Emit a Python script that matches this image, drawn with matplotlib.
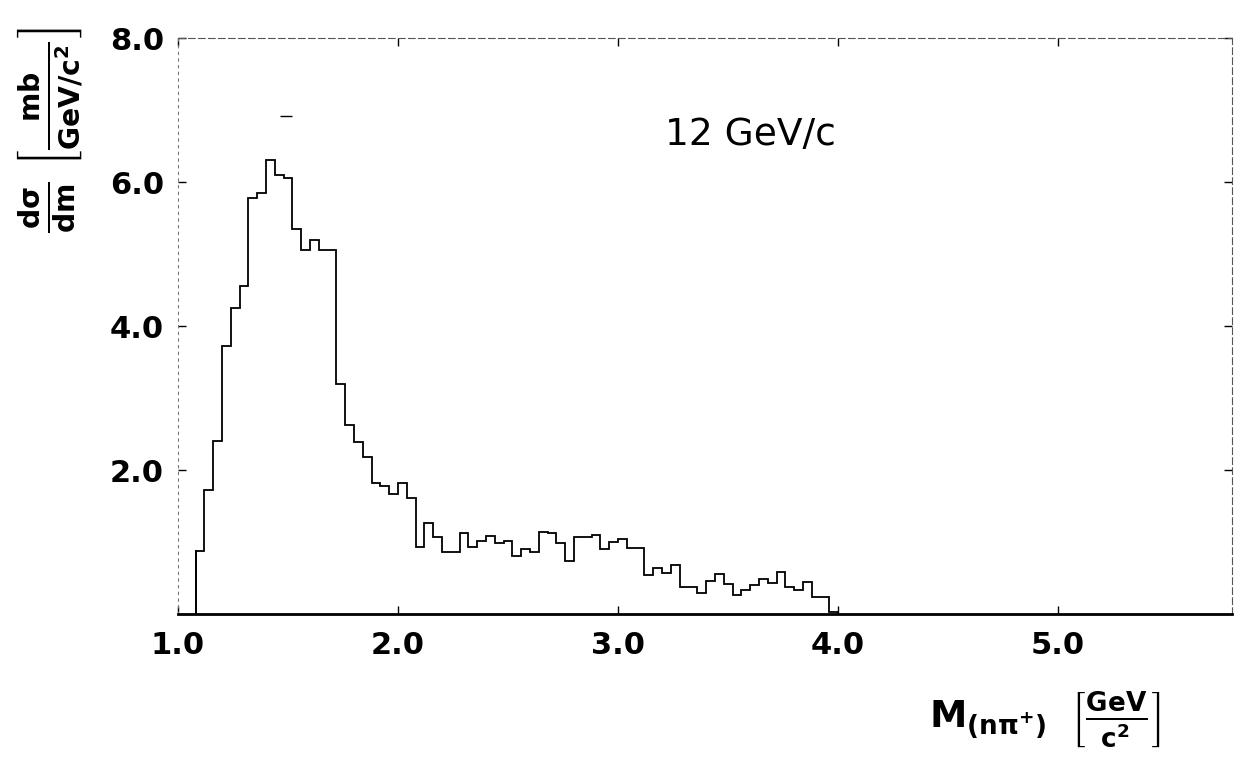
"""
Mass spectrum M(n pi+) at 12 GeV/c - recreated from a scanned figure.
"""
import matplotlib
matplotlib.use('Agg')
import matplotlib.pyplot as plt
import numpy as np

# ── Data ────────────────────────────────────────────────────────────────────
BIN_START = 1.08
BIN_WIDTH = 0.04
counts = [
    0.88, 1.72, 2.40, 3.72, 4.25, 4.55, 5.78, 5.85, 6.30, 6.10,
    6.05, 5.35, 5.05, 5.20, 5.05, 5.05, 3.20, 2.62, 2.39, 2.18,
    1.82, 1.78, 1.67, 1.82, 1.61, 0.93, 1.26, 1.07, 0.86, 0.86,
    1.12, 0.93, 1.01, 1.08, 0.99, 1.01, 0.81, 0.90, 0.86, 1.14,
    1.12, 0.99, 0.74, 1.07, 1.07, 1.10, 0.90, 1.00, 1.04, 0.92,
    0.92, 0.54, 0.64, 0.57, 0.68, 0.38, 0.37, 0.29, 0.46, 0.55,
    0.42, 0.26, 0.33, 0.40, 0.48, 0.43, 0.58, 0.37, 0.33, 0.44,
    0.23, 0.23, 0.03,
]
# isolated mark above the peak
extra_x = [1.49]
extra_y = [6.92]

x_ticks = [1.0, 2.0, 3.0, 4.0, 5.0]
y_ticks = [2.0, 4.0, 6.0, 8.0]

edges = BIN_START + BIN_WIDTH * np.arange(len(counts) + 1)

plt.rcParams['font.family'] = ['DejaVu Sans']
plt.rcParams['mathtext.fontset'] = 'dejavusans'

fig = plt.figure(figsize=(12.36, 7.61), dpi=100)
ax = fig.add_axes([178 / 1236, 1 - 614 / 761, (1232 - 178) / 1236, (614 - 38) / 761])

ax.stairs(counts, edges, color='black', linewidth=1.3)
ax.plot([edges[0], edges[0]], [0, counts[0]], color='black', lw=1.3)
ax.plot(extra_x, extra_y, marker='_', markersize=9, color='black', linestyle='none')

ax.set_xlim(1.0, 5.79)
ax.set_ylim(0, 8.0)
ax.set_xticks(x_ticks)
ax.set_yticks(y_ticks)
ax.set_xticklabels([f'{v:.1f}' for v in x_ticks], fontsize=22, fontweight='bold')
ax.set_yticklabels([f'{v:.1f}' for v in y_ticks], fontsize=22, fontweight='bold')
ax.tick_params(axis='both', direction='in', length=6, width=1, right=True, top=True)
ax.tick_params(axis='x', pad=12)
ax.tick_params(axis='y', pad=10)

ax.spines['bottom'].set_linewidth(2)
ax.spines['left'].set_linestyle((0, (2, 4)))
ax.spines['left'].set_color('#777777')
for side in ('top', 'right'):
    ax.spines[side].set_linestyle((0, (6, 3)))
    ax.spines[side].set_color('#555555')
    ax.spines[side].set_linewidth(0.8)

ax.text(0.462, 0.832, '12 GeV/c', transform=ax.transAxes, fontsize=27,
        ha='left', va='center')

fig.text(1045 / 1236, 1 - 720 / 761,
         r'$\mathbf{M_{(n\pi^{+})}}\ \ \left[\mathbf{\frac{GeV}{c^2}}\right]$',
         fontsize=27, ha='center', va='center')
fig.text(50 / 1236, 1 - 130 / 761,
         r'$\mathbf{\frac{d\sigma}{dm}}\ \left[\mathbf{\frac{mb}{GeV/c^2}}\right]$',
         fontsize=29, rotation=90, ha='center', va='center')

plt.savefig('out.png', dpi=100)
plt.close()
